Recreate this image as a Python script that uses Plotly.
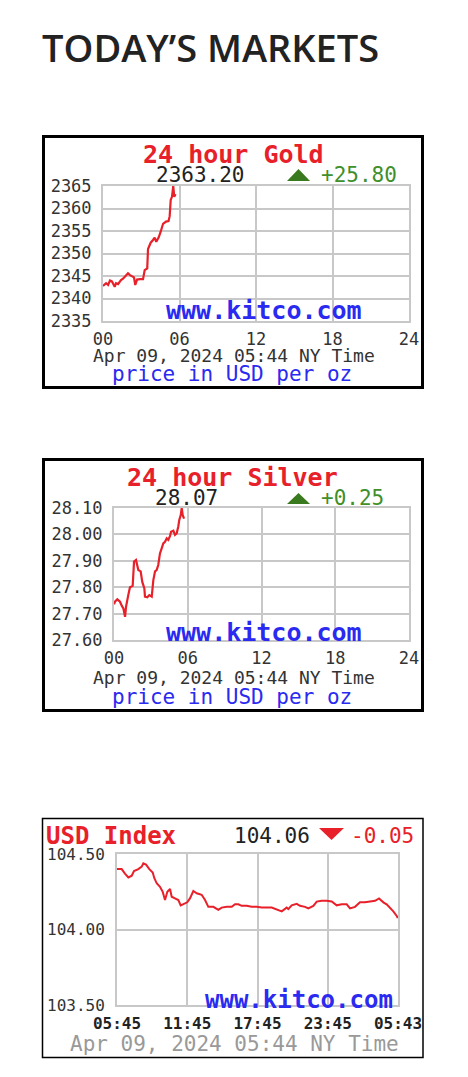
import plotly.graph_objects as go

# ---------------- data ----------------
gold_hours = [0.0, 0.24, 0.4, 0.55, 0.7, 0.92, 1.02, 1.18, 1.41, 1.57, 1.73, 1.96, 2.12, 2.27,
              2.43, 2.53, 2.67, 2.9, 3.14, 3.27, 3.47, 3.53, 3.74, 3.92, 4.05, 4.18, 4.37,
              4.53, 4.71, 4.94, 5.14, 5.23, 5.31, 5.41, 5.51, 5.59, 5.69]
gold_prices = [2342.8, 2343.4, 2343.0, 2344.0, 2343.8, 2342.6, 2343.4, 2343.2, 2344.1, 2344.4,
               2344.9, 2345.6, 2345.2, 2344.9, 2344.7, 2343.0, 2344.2, 2344.3, 2344.3, 2346.3,
               2346.7, 2351.0, 2352.4, 2353.0, 2353.5, 2352.6, 2353.6, 2354.9, 2356.6, 2357.1,
               2357.2, 2358.3, 2361.9, 2362.6, 2365.0, 2362.6, 2363.2]

silver_hours = [0.0, 0.08, 0.27, 0.49, 0.63, 0.76, 0.9, 0.98, 1.16, 1.3, 1.52, 1.63, 1.79, 1.98,
                2.17, 2.3, 2.47, 2.52, 2.71, 2.87, 3.07, 3.2, 3.34, 3.47, 3.6, 3.74, 3.88, 4.01,
                4.15, 4.29, 4.42, 4.56, 4.64, 4.83, 4.96, 5.1, 5.23, 5.31, 5.43, 5.51, 5.59, 5.7]
silver_prices = [27.735, 27.745, 27.754, 27.745, 27.73, 27.72, 27.688, 27.726, 27.77, 27.80,
                 27.805, 27.897, 27.903, 27.865, 27.86, 27.82, 27.795, 27.764, 27.762, 27.77,
                 27.764, 27.827, 27.86, 27.865, 27.884, 27.928, 27.947, 27.966, 27.972, 27.985,
                 27.979, 27.994, 28.01, 28.014, 27.998, 28.004, 28.03, 28.055, 28.073, 28.10,
                 28.073, 28.06]

usd_hours = [0.0, 0.40, 0.68, 0.97, 1.26, 1.45, 1.82, 2.11, 2.25, 2.48, 2.76, 3.05, 3.19, 3.39,
             3.67, 3.90, 4.10, 4.30, 4.53, 4.67, 4.95, 5.24, 5.44, 5.72, 6.00, 6.23, 6.52, 6.81,
             7.23, 7.52, 7.80, 8.23, 8.65, 8.94, 9.37, 9.80, 10.08, 10.36, 10.65, 11.08, 11.50,
             11.93, 12.36, 13.21, 13.64, 14.07, 14.49, 14.63, 14.92, 15.35, 15.63, 16.06, 16.34,
             16.77, 17.06, 17.48, 17.91, 18.34, 18.76, 19.19, 19.62, 19.90, 20.33, 20.75, 21.18,
             21.61, 22.04, 22.38, 22.75, 23.03, 23.32, 23.60, 23.89, 23.98]
usd_values = [104.40, 104.40, 104.37, 104.345, 104.356, 104.387, 104.40, 104.416, 104.438,
              104.43, 104.40, 104.378, 104.34, 104.306, 104.283, 104.25, 104.195, 104.25, 104.268,
              104.217, 104.206, 104.195, 104.16, 104.17, 104.18, 104.206, 104.255, 104.24, 104.23,
              104.195, 104.15, 104.15, 104.13, 104.145, 104.15, 104.15, 104.167, 104.167, 104.157,
              104.157, 104.15, 104.15, 104.145, 104.145, 104.13, 104.12, 104.145, 104.135,
              104.16, 104.17, 104.157, 104.15, 104.14, 104.156, 104.185, 104.19, 104.19, 104.185,
              104.16, 104.167, 104.167, 104.14, 104.15, 104.18, 104.18, 104.185, 104.19, 104.206,
              104.18, 104.167, 104.145, 104.12, 104.09, 104.075]

hour_ticks = [0, 6, 12, 18, 24]
hour_labels = ["00", "06", "12", "18", "24"]
gold_yticks = [2335, 2340, 2345, 2350, 2355, 2360, 2365]
silver_yticks = [27.60, 27.70, 27.80, 27.90, 28.00, 28.10]
usd_yticks = [103.50, 104.00, 104.50]
usd_xlabels = ["05:45", "11:45", "17:45", "23:45", "05:43"]

# ---------------- layout helpers ----------------
W, H = 468, 1077
def px(x):
    return x / W
def py(y):
    return 1 - y / H

RED = "#e8202a"
GREEN = "#3f8f2a"
BLUE = "#2a2af0"
GRID = "#c8c8c8"
MONO = "DejaVu Sans Mono"

fig = go.Figure()
fig.add_trace(go.Scatter(x=gold_hours, y=gold_prices, mode="lines",
                         line=dict(color=RED, width=2.2), xaxis="x", yaxis="y",
                         hoverinfo="skip", showlegend=False))
fig.add_trace(go.Scatter(x=silver_hours, y=silver_prices, mode="lines",
                         line=dict(color=RED, width=2.2), xaxis="x2", yaxis="y2",
                         hoverinfo="skip", showlegend=False))
fig.add_trace(go.Scatter(x=usd_hours, y=usd_values, mode="lines",
                         line=dict(color=RED, width=2), xaxis="x3", yaxis="y3",
                         hoverinfo="skip", showlegend=False))

def xax(dom, anchor, tickvals, ticktext, font, standoff):
    return dict(domain=dom, anchor=anchor, range=[0, 24], tickmode="array",
                tickvals=tickvals, ticktext=ticktext, showgrid=True, gridcolor=GRID,
                gridwidth=2, showline=True, mirror=True, linecolor=GRID, linewidth=2,
                zeroline=False, ticks="", ticklabelstandoff=standoff, tickfont=font,
                fixedrange=True, automargin=False)

def yax(dom, anchor, rng, tickvals, fmt, font, standoff):
    return dict(domain=dom, anchor=anchor, range=rng, tickmode="array",
                tickvals=tickvals, tickformat=fmt, showgrid=True, gridcolor=GRID,
                gridwidth=2, showline=True, mirror=True, linecolor=GRID, linewidth=2,
                zeroline=False, ticks="", ticklabelstandoff=standoff, tickfont=font,
                fixedrange=True, automargin=False)

tickf = dict(family=MONO, size=17, color="#333333")

layout = dict(
    width=W, height=H, margin=dict(l=0, r=0, t=0, b=0, pad=0), autosize=False,
    paper_bgcolor="white", plot_bgcolor="white", showlegend=False,
    xaxis=xax([px(103), px(409)], "y", hour_ticks, hour_labels, tickf, 2),
    yaxis=yax([py(321), py(186)], "x", [2335, 2365], gold_yticks, "d", tickf, 6),
    xaxis2=xax([px(114), px(409)], "y2", hour_ticks, hour_labels, tickf, 2),
    yaxis2=yax([py(640), py(508)], "x2", [27.60, 28.10], silver_yticks, ".2f", tickf, 6),
    xaxis3=xax([px(117), px(398)], "y3", hour_ticks, usd_xlabels,
               dict(family=MONO, size=16, color="#222222", weight="bold"), 3),
    yaxis3=yax([py(1005), py(854)], "x3", [103.50, 104.50], usd_yticks, ".2f",
               dict(family=MONO, size=16, color="#333333"), 7),
)
fig.update_layout(**layout)

anns = []
def ann(text, x, y, size, color, xanchor="center", bold=False, family=MONO):
    f = dict(family=family, size=size, color=color)
    if bold:
        f["weight"] = "bold"
    anns.append(dict(text=text, x=px(x), y=py(y), xref="paper", yref="paper",
                     xanchor=xanchor, yanchor="middle", showarrow=False, font=f))

# header
anns.append(dict(text="TODAY’S MARKETS", x=px(40), y=py(47), xref="paper", yref="paper",
                 xanchor="left", yanchor="middle", showarrow=False,
                 font=dict(family="Open Sans", size=38, color="#222222", weight=600)))

# gold
ann("24 hour Gold", 233, 154, 25, RED, bold=True)
ann("2363.20", 200, 175, 21, "#222222")
ann("+25.80", 319, 175, 21, GREEN, xanchor="left")
ann("www.kitco.com", 264, 311, 25, BLUE, bold=True)
ann("Apr 09, 2024 05:44 NY Time", 234, 355, 18, "#333333")
ann("price in USD per oz", 232, 374, 21, BLUE)

# silver
ann("24 hour Silver", 232, 477, 25, RED, bold=True)
ann("28.07", 186, 498, 21, "#222222")
ann("+0.25", 319, 498, 21, GREEN, xanchor="left")
ann("www.kitco.com", 264, 632, 25, BLUE, bold=True)
ann("Apr 09, 2024 05:44 NY Time", 234, 677, 18, "#333333")
ann("price in USD per oz", 232, 697, 21, BLUE)

# usd
ann("USD Index", 44, 836, 24, RED, xanchor="left", bold=True)
ann("104.06", 232, 836, 21, "#222222", xanchor="left")
ann("-0.05", 349, 836, 21, RED, xanchor="left")
ann("www.kitco.com", 299, 1000, 24, BLUE, bold=True)
ann("Apr 09, 2024 05:44 NY Time", 234, 1044, 21, "#999999")

fig.update_layout(annotations=anns)

shapes = []
def rect(x0, y0, x1, y1, w):
    shapes.append(dict(type="rect", xref="paper", yref="paper", x0=px(x0), x1=px(x1),
                       y0=py(y1), y1=py(y0), line=dict(color="black", width=w),
                       fillcolor="rgba(0,0,0,0)", layer="above"))
rect(43.5, 136.5, 422.5, 387.5, 3)
rect(43.5, 459.5, 422.5, 710.5, 3)
rect(42.5, 818.5, 423, 1057.5, 1.5)

def tri(pts, color):
    path = "M " + " L ".join(f"{px(a)},{py(b)}" for a, b in pts) + " Z"
    shapes.append(dict(type="path", xref="paper", yref="paper", path=path,
                       fillcolor=color, line=dict(color=color, width=0), layer="above"))
tri([(287, 181), (310, 181), (298.5, 169)], "#3a7a1e")
tri([(287, 504), (310, 504), (298.5, 493)], "#3a7a1e")
tri([(319, 828), (344, 828), (331.5, 840)], RED)

fig.update_layout(shapes=shapes)

fig.write_html("out.html", config={"displayModeBar": False},
               post_script="document.body.style.margin='0';document.body.style.overflow='hidden';")
